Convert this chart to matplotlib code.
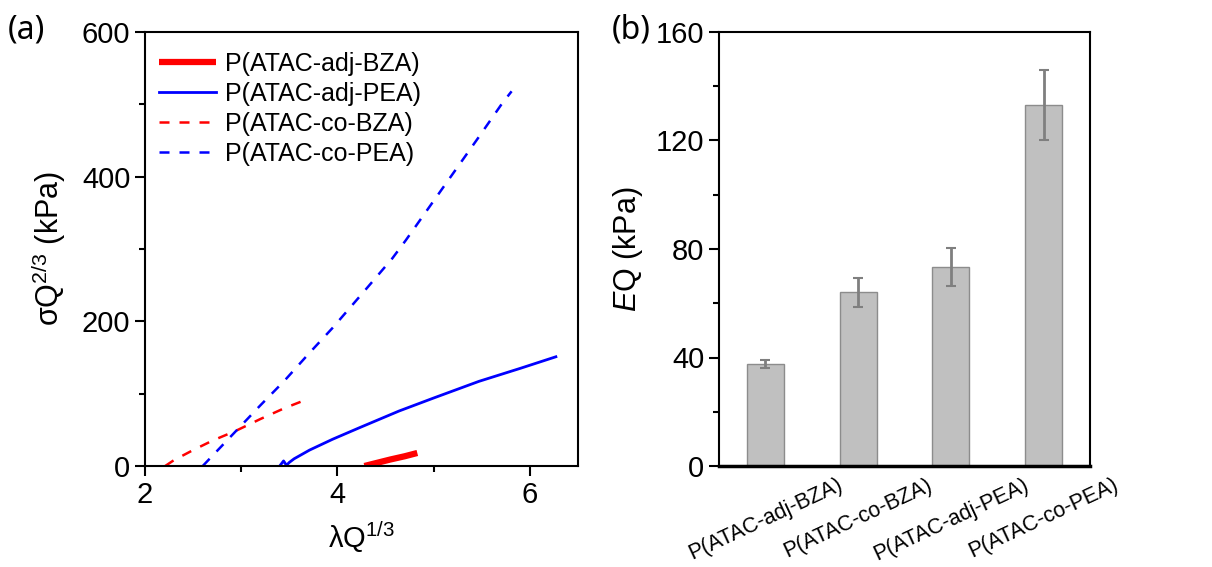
import matplotlib
matplotlib.use('Agg')
import matplotlib.pyplot as plt
from matplotlib.ticker import MultipleLocator

plt.rcParams['font.family'] = ['Liberation Sans', 'DejaVu Sans']
plt.rcParams['mathtext.fontset'] = 'custom'
plt.rcParams['mathtext.rm'] = 'Liberation Sans'
plt.rcParams['mathtext.it'] = 'Liberation Sans:italic'

# (a) stress-strain curves
adj_bza_x = [4.28, 4.40, 4.55, 4.70, 4.83]
adj_bza_y = [0, 4, 9, 13.5, 18]

adj_pea_x = [3.40, 3.44, 3.47, 3.50, 3.55, 3.71, 3.95, 4.23, 4.64, 5.00, 5.47, 5.90, 6.27]
adj_pea_y = [0, 7, 1, 5, 10, 22, 37, 53, 76, 94, 117, 135, 151]

co_bza_x = [2.21, 2.30, 2.50, 2.70, 2.95, 3.20, 3.45, 3.68]
co_bza_y = [0, 8, 22, 35, 49, 65, 80, 92]

co_pea_x = [2.60, 2.80, 2.95, 3.20, 3.45, 3.70, 3.95, 4.30, 4.57, 4.71, 5.13, 5.47, 5.71, 5.81]
co_pea_y = [0, 28, 49, 84, 118, 155, 191, 245, 287, 312, 391, 455, 501, 518]

# (b) modulus bars
samples = ['P(ATAC-adj-BZA)', 'P(ATAC-co-BZA)', 'P(ATAC-adj-PEA)', 'P(ATAC-co-PEA)']
eq_mean = [37.6, 64.0, 73.3, 133.0]
eq_err = [1.4, 5.3, 6.9, 13.0]

fig = plt.figure(figsize=(12.12, 5.67), dpi=100)
W, H = 1212, 567
ax1 = fig.add_axes([145 / W, 1 - 466 / H, (578 - 145) / W, (466 - 32) / H])
ax2 = fig.add_axes([719 / W, 1 - 466 / H, (1090 - 719) / W, (466 - 32) / H])

ax1.plot(adj_bza_x, adj_bza_y, color='red', lw=4.5, solid_capstyle='butt', label='P(ATAC-adj-BZA)')
ax1.plot(adj_pea_x, adj_pea_y, color='blue', lw=2, label='P(ATAC-adj-PEA)')
ax1.plot(co_bza_x, co_bza_y, color='red', lw=1.8, ls=(0, (4, 4)), label='P(ATAC-co-BZA)')
ax1.plot(co_pea_x, co_pea_y, color='blue', lw=1.8, ls=(0, (4, 4)), label='P(ATAC-co-PEA)')
ax1.set_xlim(2, 6.5)
ax1.set_ylim(0, 600)
ax1.xaxis.set_major_locator(MultipleLocator(2))
ax1.xaxis.set_minor_locator(MultipleLocator(1))
ax1.yaxis.set_major_locator(MultipleLocator(200))
ax1.yaxis.set_minor_locator(MultipleLocator(100))
ax1.set_xlabel(r'λQ$^{1/3}$', fontsize=21, labelpad=8)
ax1.set_ylabel(r'σQ$^{2/3}$ (kPa)', fontsize=22, labelpad=10)
ax1.legend(loc='upper left', frameon=False, fontsize=18, handlelength=2.3,
           handletextpad=0.35, labelspacing=0.24, borderaxespad=0.4,
           bbox_to_anchor=(-0.014, 1.0))

x = range(1, len(samples) + 1)
ax2.bar(x, eq_mean, width=0.4, color='#c0c0c0', edgecolor='#8c8c8c', linewidth=1)
ax2.errorbar(x, eq_mean, yerr=eq_err, fmt='none', ecolor='#7f7f7f', elinewidth=2,
             capsize=3.5, capthick=1.5)
ax2.set_xlim(0.5, 4.5)
ax2.set_ylim(0, 160)
ax2.yaxis.set_major_locator(MultipleLocator(40))
ax2.yaxis.set_minor_locator(MultipleLocator(20))
ax2.set_xticks(list(x))
ax2.set_xticklabels(samples, rotation=25, ha='center')
ax2.set_ylabel(r'$\mathit{E}$Q (kPa)', fontsize=22, labelpad=8)

for ax in (ax1, ax2):
    for s in ax.spines.values():
        s.set_linewidth(1.5)
    ax.tick_params(which='major', direction='out', length=7, width=1.5, labelsize=21)
    ax.tick_params(which='minor', direction='out', length=4, width=1.5)
ax2.tick_params(axis='x', which='both', length=0, labelsize=15.5, pad=6)
ax2.spines['bottom'].set_linewidth(2.5)

fig.text(8 / W, 1 - 30 / H, '(a)', fontsize=23, family=['Noto Sans', 'DejaVu Sans'], va='center')
fig.text(612 / W, 1 - 30 / H, '(b)', fontsize=23, family=['Noto Sans', 'DejaVu Sans'], va='center')

fig.savefig('out.png', dpi=100)
